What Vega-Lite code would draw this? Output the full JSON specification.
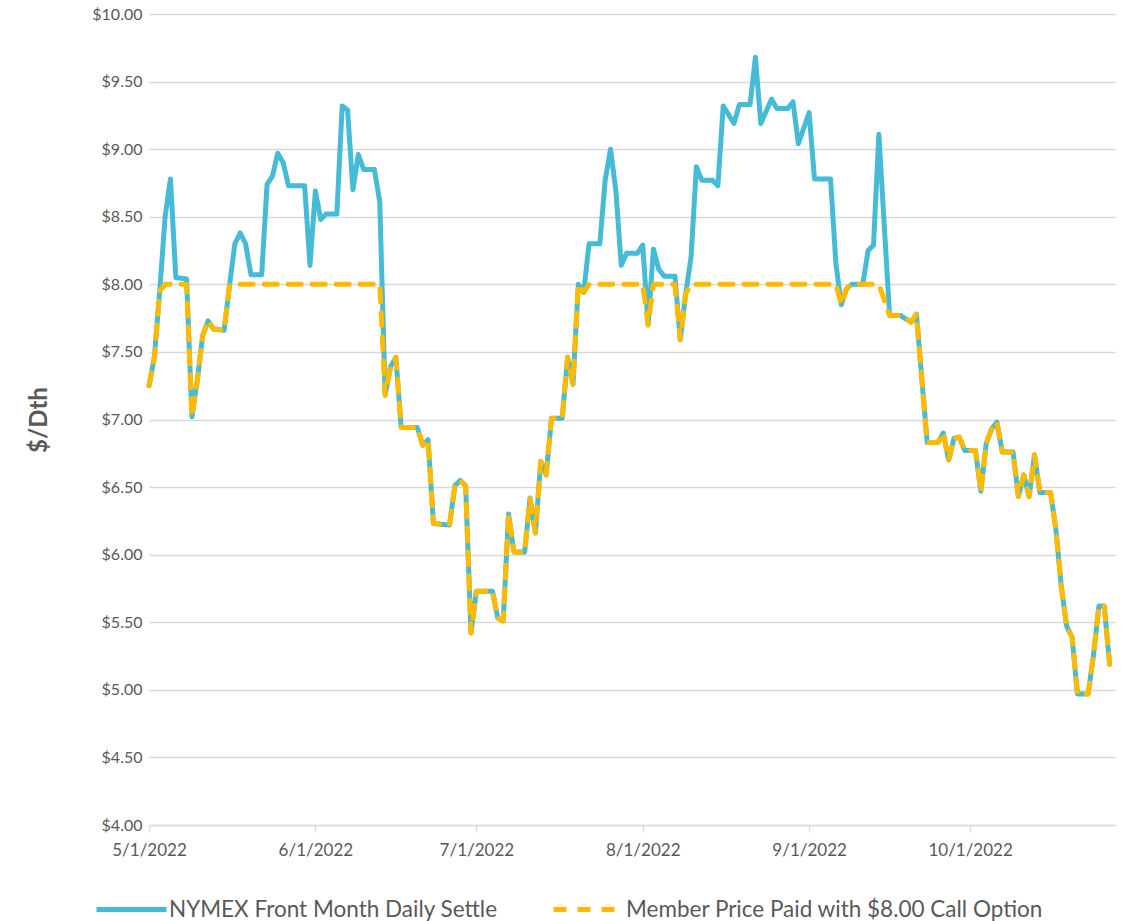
{
  "$schema": "https://vega.github.io/schema/vega-lite/v6.json",
  "autosize": {"type": "none"},
  "width": 966,
  "height": 811,
  "padding": {"left": 149, "top": 14, "right": 7, "bottom": 96},
  "background": "white",
  "config": {"view": {"stroke": null}, "font": "Lato"},
  "data": {"values": [
    {"d":"2022-05-01","v":7.25},{"d":"2022-05-02","v":7.46},{"d":"2022-05-03","v":7.95},{"d":"2022-05-04","v":8.50},
    {"d":"2022-05-05","v":8.78},{"d":"2022-05-06","v":8.05},{"d":"2022-05-08","v":8.04},{"d":"2022-05-09","v":7.02},
    {"d":"2022-05-10","v":7.29},{"d":"2022-05-11","v":7.62},{"d":"2022-05-12","v":7.73},{"d":"2022-05-13","v":7.67},
    {"d":"2022-05-15","v":7.66},{"d":"2022-05-16","v":7.99},{"d":"2022-05-17","v":8.30},{"d":"2022-05-18","v":8.38},
    {"d":"2022-05-19","v":8.30},{"d":"2022-05-20","v":8.07},{"d":"2022-05-22","v":8.07},{"d":"2022-05-23","v":8.74},
    {"d":"2022-05-24","v":8.80},{"d":"2022-05-25","v":8.97},{"d":"2022-05-26","v":8.90},{"d":"2022-05-27","v":8.73},
    {"d":"2022-05-30","v":8.73},{"d":"2022-05-31","v":8.14},{"d":"2022-06-01","v":8.69},{"d":"2022-06-02","v":8.48},
    {"d":"2022-06-03","v":8.52},{"d":"2022-06-05","v":8.52},{"d":"2022-06-06","v":9.32},{"d":"2022-06-07","v":9.29},
    {"d":"2022-06-08","v":8.70},{"d":"2022-06-09","v":8.96},{"d":"2022-06-10","v":8.85},{"d":"2022-06-12","v":8.85},
    {"d":"2022-06-13","v":8.61},{"d":"2022-06-14","v":7.18},{"d":"2022-06-15","v":7.39},{"d":"2022-06-16","v":7.46},
    {"d":"2022-06-17","v":6.94},{"d":"2022-06-20","v":6.94},{"d":"2022-06-21","v":6.81},{"d":"2022-06-22","v":6.85},
    {"d":"2022-06-23","v":6.23},{"d":"2022-06-26","v":6.22},{"d":"2022-06-27","v":6.51},{"d":"2022-06-28","v":6.55},
    {"d":"2022-06-29","v":6.51},{"d":"2022-06-30","v":5.42},{"d":"2022-07-01","v":5.73},{"d":"2022-07-04","v":5.73},
    {"d":"2022-07-05","v":5.53},{"d":"2022-07-06","v":5.51},{"d":"2022-07-07","v":6.30},{"d":"2022-07-08","v":6.02},
    {"d":"2022-07-10","v":6.02},{"d":"2022-07-11","v":6.42},{"d":"2022-07-12","v":6.16},{"d":"2022-07-13","v":6.69},
    {"d":"2022-07-14","v":6.59},{"d":"2022-07-15","v":7.01},{"d":"2022-07-17","v":7.01},{"d":"2022-07-18","v":7.46},
    {"d":"2022-07-19","v":7.26},{"d":"2022-07-20","v":8.00},{"d":"2022-07-21","v":7.94},{"d":"2022-07-22","v":8.30},
    {"d":"2022-07-24","v":8.30},{"d":"2022-07-25","v":8.77},{"d":"2022-07-26","v":9.00},{"d":"2022-07-27","v":8.69},
    {"d":"2022-07-28","v":8.14},{"d":"2022-07-29","v":8.23},{"d":"2022-07-31","v":8.23},{"d":"2022-08-01","v":8.29},
    {"d":"2022-08-02","v":7.70},{"d":"2022-08-03","v":8.26},{"d":"2022-08-04","v":8.11},{"d":"2022-08-05","v":8.06},
    {"d":"2022-08-07","v":8.06},{"d":"2022-08-08","v":7.59},{"d":"2022-08-09","v":7.93},{"d":"2022-08-10","v":8.20},
    {"d":"2022-08-11","v":8.87},{"d":"2022-08-12","v":8.77},{"d":"2022-08-14","v":8.77},{"d":"2022-08-15","v":8.73},
    {"d":"2022-08-16","v":9.32},{"d":"2022-08-18","v":9.19},{"d":"2022-08-19","v":9.33},{"d":"2022-08-21","v":9.33},
    {"d":"2022-08-22","v":9.68},{"d":"2022-08-23","v":9.19},{"d":"2022-08-25","v":9.37},{"d":"2022-08-26","v":9.30},
    {"d":"2022-08-28","v":9.30},{"d":"2022-08-29","v":9.35},{"d":"2022-08-30","v":9.04},{"d":"2022-09-01","v":9.27},
    {"d":"2022-09-02","v":8.78},{"d":"2022-09-05","v":8.78},{"d":"2022-09-06","v":8.15},{"d":"2022-09-07","v":7.85},
    {"d":"2022-09-08","v":7.97},{"d":"2022-09-09","v":8.00},{"d":"2022-09-11","v":8.00},{"d":"2022-09-12","v":8.25},
    {"d":"2022-09-13","v":8.29},{"d":"2022-09-14","v":9.11},{"d":"2022-09-16","v":7.77},{"d":"2022-09-18","v":7.77},
    {"d":"2022-09-20","v":7.72},{"d":"2022-09-21","v":7.78},{"d":"2022-09-23","v":6.83},{"d":"2022-09-25","v":6.83},
    {"d":"2022-09-26","v":6.90},{"d":"2022-09-27","v":6.70},{"d":"2022-09-28","v":6.86},{"d":"2022-09-29","v":6.87},
    {"d":"2022-09-30","v":6.77},{"d":"2022-10-02","v":6.77},{"d":"2022-10-03","v":6.47},{"d":"2022-10-04","v":6.82},
    {"d":"2022-10-05","v":6.93},{"d":"2022-10-06","v":6.98},{"d":"2022-10-07","v":6.76},{"d":"2022-10-09","v":6.76},
    {"d":"2022-10-10","v":6.43},{"d":"2022-10-11","v":6.59},{"d":"2022-10-12","v":6.43},{"d":"2022-10-13","v":6.74},
    {"d":"2022-10-14","v":6.46},{"d":"2022-10-16","v":6.46},{"d":"2022-10-17","v":6.18},{"d":"2022-10-18","v":5.76},
    {"d":"2022-10-19","v":5.47},{"d":"2022-10-20","v":5.39},{"d":"2022-10-21","v":4.97},{"d":"2022-10-23","v":4.97},
    {"d":"2022-10-24","v":5.26},{"d":"2022-10-25","v":5.62},{"d":"2022-10-26","v":5.62},{"d":"2022-10-27","v":5.19}
  ]},
  "encoding": {
    "x": {
      "field": "d", "type": "temporal",
      "scale": {"type": "utc", "domain": [{"year": 2022, "month": 5, "date": 1, "utc": true}, {"year": 2022, "month": 10, "date": 28, "utc": true}]},
      "axis": {
        "title": null, "format": "%-m/%-d/%Y", "grid": false,
        "values": [
          {"year": 2022, "month": 5, "date": 1, "utc": true},
          {"year": 2022, "month": 6, "date": 1, "utc": true},
          {"year": 2022, "month": 7, "date": 1, "utc": true},
          {"year": 2022, "month": 8, "date": 1, "utc": true},
          {"year": 2022, "month": 9, "date": 1, "utc": true},
          {"year": 2022, "month": 10, "date": 1, "utc": true}
        ],
        "labelFont": "Lato", "labelFontSize": 17, "labelColor": "#595959", "labelPadding": 10,
        "tickColor": "#D9D9D9", "tickSize": 7, "tickWidth": 1.3,
        "domainColor": "#D9D9D9", "domainWidth": 1.5, "labelFlush": false
      }
    },
    "y": {
      "field": "v", "type": "quantitative",
      "scale": {"domain": [4, 10], "nice": false, "zero": false},
      "axis": {
        "title": "$/Dth", "titleFont": "Lato", "titleFontSize": 24, "titleFontWeight": "bold", "titleColor": "#595959", "titlePadding": 40,
        "values": [4, 4.5, 5, 5.5, 6, 6.5, 7, 7.5, 8, 8.5, 9, 9.5, 10],
        "format": "$.2f", "labelFont": "Lato", "labelFontSize": 16, "labelColor": "#595959", "labelPadding": 7,
        "domain": false, "ticks": false, "grid": true, "gridColor": "#D9D9D9", "gridWidth": 1.3
      }
    }
  },
  "layer": [
    {
      "mark": {"type": "line", "strokeWidth": 5, "strokeCap": "round", "strokeJoin": "round"},
      "encoding": {
        "y": {"field": "v", "type": "quantitative"},
        "color": {"datum": "NYMEX Front Month Daily Settle", "type": "nominal",
          "scale": {"domain": ["NYMEX Front Month Daily Settle", "Member Price Paid with $8.00 Call Option"], "range": ["#45BBD5", "#FFBA00"]},
          "legend": {
            "orient": "none", "legendX": -55, "legendY": 858, "direction": "horizontal", "title": null,
            "symbolType": "stroke", "symbolSize": 4900, "symbolStrokeWidth": 5,
            "labelFont": "Lato", "labelFontSize": 22.5, "labelColor": "#595959", "labelOffset": 0, "labelLimit": 600,
            "columnPadding": 45
          }
        },
        "strokeDash": {"datum": "NYMEX Front Month Daily Settle", "type": "nominal",
          "scale": {"domain": ["NYMEX Front Month Daily Settle", "Member Price Paid with $8.00 Call Option"], "range": [[1, 0], [13, 11]]}}
      }
    },
    {
      "data": {"values": [
        {"d":"2022-05-01","m":7.25},{"d":"2022-05-02","m":7.46},{"d":"2022-05-03","m":7.95},{"d":"2022-05-04","m":8.00},
        {"d":"2022-05-05","m":8.00},{"d":"2022-05-06","m":8.00},{"d":"2022-05-08","m":8.00},{"d":"2022-05-09","m":7.02},
        {"d":"2022-05-10","m":7.29},{"d":"2022-05-11","m":7.62},{"d":"2022-05-12","m":7.73},{"d":"2022-05-13","m":7.67},
        {"d":"2022-05-15","m":7.66},{"d":"2022-05-16","m":7.99},{"d":"2022-05-17","m":8.00},{"d":"2022-05-18","m":8.00},
        {"d":"2022-05-19","m":8.00},{"d":"2022-05-20","m":8.00},{"d":"2022-05-22","m":8.00},{"d":"2022-05-23","m":8.00},
        {"d":"2022-05-24","m":8.00},{"d":"2022-05-25","m":8.00},{"d":"2022-05-26","m":8.00},{"d":"2022-05-27","m":8.00},
        {"d":"2022-05-30","m":8.00},{"d":"2022-05-31","m":8.00},{"d":"2022-06-01","m":8.00},{"d":"2022-06-02","m":8.00},
        {"d":"2022-06-03","m":8.00},{"d":"2022-06-05","m":8.00},{"d":"2022-06-06","m":8.00},{"d":"2022-06-07","m":8.00},
        {"d":"2022-06-08","m":8.00},{"d":"2022-06-09","m":8.00},{"d":"2022-06-10","m":8.00},{"d":"2022-06-12","m":8.00},
        {"d":"2022-06-13","m":8.00},{"d":"2022-06-14","m":7.18},{"d":"2022-06-15","m":7.39},{"d":"2022-06-16","m":7.46},
        {"d":"2022-06-17","m":6.94},{"d":"2022-06-20","m":6.94},{"d":"2022-06-21","m":6.81},{"d":"2022-06-22","m":6.85},
        {"d":"2022-06-23","m":6.23},{"d":"2022-06-26","m":6.22},{"d":"2022-06-27","m":6.51},{"d":"2022-06-28","m":6.55},
        {"d":"2022-06-29","m":6.51},{"d":"2022-06-30","m":5.42},{"d":"2022-07-01","m":5.73},{"d":"2022-07-04","m":5.73},
        {"d":"2022-07-05","m":5.53},{"d":"2022-07-06","m":5.51},{"d":"2022-07-07","m":6.30},{"d":"2022-07-08","m":6.02},
        {"d":"2022-07-10","m":6.02},{"d":"2022-07-11","m":6.42},{"d":"2022-07-12","m":6.16},{"d":"2022-07-13","m":6.69},
        {"d":"2022-07-14","m":6.59},{"d":"2022-07-15","m":7.01},{"d":"2022-07-17","m":7.01},{"d":"2022-07-18","m":7.46},
        {"d":"2022-07-19","m":7.26},{"d":"2022-07-20","m":8.00},{"d":"2022-07-21","m":7.94},{"d":"2022-07-22","m":8.00},
        {"d":"2022-07-24","m":8.00},{"d":"2022-07-25","m":8.00},{"d":"2022-07-26","m":8.00},{"d":"2022-07-27","m":8.00},
        {"d":"2022-07-28","m":8.00},{"d":"2022-07-29","m":8.00},{"d":"2022-07-31","m":8.00},{"d":"2022-08-01","m":8.00},
        {"d":"2022-08-02","m":7.70},{"d":"2022-08-03","m":8.00},{"d":"2022-08-04","m":8.00},{"d":"2022-08-05","m":8.00},
        {"d":"2022-08-07","m":8.00},{"d":"2022-08-08","m":7.59},{"d":"2022-08-09","m":7.93},{"d":"2022-08-10","m":8.00},
        {"d":"2022-08-11","m":8.00},{"d":"2022-08-12","m":8.00},{"d":"2022-08-14","m":8.00},{"d":"2022-08-15","m":8.00},
        {"d":"2022-08-16","m":8.00},{"d":"2022-08-18","m":8.00},{"d":"2022-08-19","m":8.00},{"d":"2022-08-21","m":8.00},
        {"d":"2022-08-22","m":8.00},{"d":"2022-08-23","m":8.00},{"d":"2022-08-25","m":8.00},{"d":"2022-08-26","m":8.00},
        {"d":"2022-08-28","m":8.00},{"d":"2022-08-29","m":8.00},{"d":"2022-08-30","m":8.00},{"d":"2022-09-01","m":8.00},
        {"d":"2022-09-02","m":8.00},{"d":"2022-09-05","m":8.00},{"d":"2022-09-06","m":8.00},{"d":"2022-09-07","m":7.85},
        {"d":"2022-09-08","m":7.97},{"d":"2022-09-09","m":8.00},{"d":"2022-09-11","m":8.00},{"d":"2022-09-12","m":8.00},
        {"d":"2022-09-13","m":8.00},{"d":"2022-09-14","m":8.00},{"d":"2022-09-16","m":7.77},{"d":"2022-09-18","m":7.77},
        {"d":"2022-09-20","m":7.72},{"d":"2022-09-21","m":7.78},{"d":"2022-09-23","m":6.83},{"d":"2022-09-25","m":6.83},
        {"d":"2022-09-26","m":6.90},{"d":"2022-09-27","m":6.70},{"d":"2022-09-28","m":6.86},{"d":"2022-09-29","m":6.87},
        {"d":"2022-09-30","m":6.77},{"d":"2022-10-02","m":6.77},{"d":"2022-10-03","m":6.47},{"d":"2022-10-04","m":6.82},
        {"d":"2022-10-05","m":6.93},{"d":"2022-10-06","m":6.98},{"d":"2022-10-07","m":6.76},{"d":"2022-10-09","m":6.76},
        {"d":"2022-10-10","m":6.43},{"d":"2022-10-11","m":6.59},{"d":"2022-10-12","m":6.43},{"d":"2022-10-13","m":6.74},
        {"d":"2022-10-14","m":6.46},{"d":"2022-10-16","m":6.46},{"d":"2022-10-17","m":6.18},{"d":"2022-10-18","m":5.76},
        {"d":"2022-10-19","m":5.47},{"d":"2022-10-20","m":5.39},{"d":"2022-10-21","m":4.97},{"d":"2022-10-23","m":4.97},
        {"d":"2022-10-24","m":5.26},{"d":"2022-10-25","m":5.62},{"d":"2022-10-26","m":5.62},{"d":"2022-10-27","m":5.19}
      ]},
      "mark": {"type": "line", "strokeWidth": 5, "strokeCap": "round", "strokeJoin": "round"},
      "encoding": {
        "y": {"field": "m", "type": "quantitative"},
        "color": {"datum": "Member Price Paid with $8.00 Call Option", "type": "nominal"},
        "strokeDash": {"datum": "Member Price Paid with $8.00 Call Option", "type": "nominal"}
      }
    }
  ]
}
